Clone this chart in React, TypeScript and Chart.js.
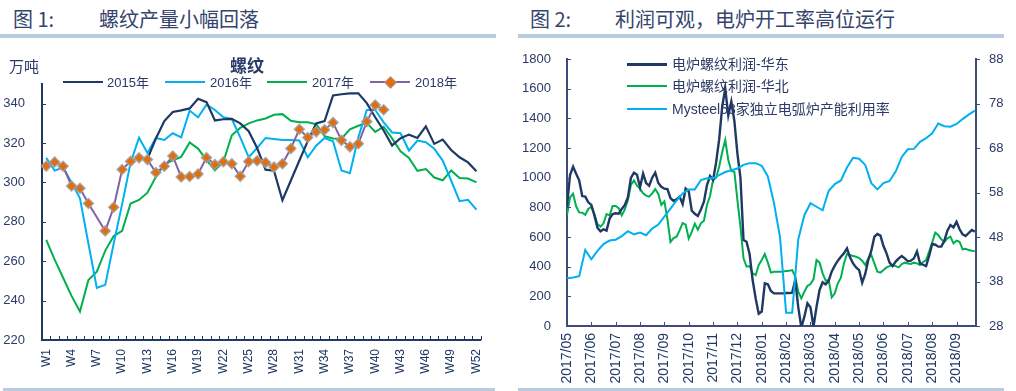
import React, { useEffect, useRef } from "react";
import { Chart, registerables } from "chart.js";

Chart.register(...registerables);

const FONT = "'Liberation Sans', 'Noto Sans CJK SC', sans-serif";
const CJK = "'Noto Sans CJK SC', 'Liberation Sans', sans-serif";
const TEXT = "#2B3A66";
const AXIS1 = "#1F3864";
const AXIS2 = "#3D4C7A";
const BAR = "#B8CBE0";

// ---------- Chart 1: weekly rebar output ----------
const weekLabels = [
  "W1", "W2", "W3", "W4", "W5", "W6", "W7", "W8", "W9", "W10", "W11", "W12", "W13",
  "W14", "W15", "W16", "W17", "W18", "W19", "W20", "W21", "W22", "W23", "W24", "W25", "W26",
  "W27", "W28", "W29", "W30", "W31", "W32", "W33", "W34", "W35", "W36", "W37", "W38", "W39",
  "W40", "W41", "W42", "W43", "W44", "W45", "W46", "W47", "W48", "W49", "W50", "W51", "W52",
];
const yTicks1 = [220, 240, 260, 280, 300, 320, 340];

const s2015 = [
  null, null, null, null, null, null, null, null, null, null, null, null,
  312, 322.3, 331.2, 335.8, 336.6, 337.6, 342.5, 340.8, 331.5, 332.1, 332.3, 330, 326, 317.5,
  306.5, 306, 291, 301, 311, 321, 330, 331.2, 344.2, 344.8, 345.2, 345.3, 340.3, 333.1,
  326.4, 318.8, 322.5, 324.3, 322.6, 328.5, 319.6, 321.8, 316.5, 312.8, 310.2, 305.7,
];
const s2016 = [
  312.5, 306, 307.6, 300, 292, 269, 246.5, 248, 269, 289, 310, 322.7, 315,
  322.6, 321.6, 325, 322.9, 336.5, 333.1, 339.5, 336.8, 333.1, 332.3, 322.9, 312.8, 317.5,
  322.6, 322.1, 321.6, 321.6, 321.3, 312.8, 318.7, 322.6, 320.9, 306.1, 304.7, 322.9, 336.8,
  336.8, 330.5, 325.4, 325, 316.2, 321.3, 320.4, 317.1, 311.1, 301, 290.5, 291.2, 286.2,
];
const s2017 = [
  270.8, 260.8, 251.6, 242.4, 234.5, 250.5, 254.7, 265.4, 272.8, 275.4, 289.3, 291.1, 294.8,
  302.9, 309.1, 311.3, 313, 320.3, 317.2, 311.3, 306.2, 310.5, 324, 327.7, 330, 331.5,
  332.5, 334.4, 334.7, 331.3, 330.6, 330.6, 329.6, 323.5, 322.3, 322.2, 327, 328.8, 330.3,
  325.7, 328.3, 322.4, 315.8, 312.5, 305.9, 306.8, 302.5, 301.1, 306.1, 302.3, 302, 300,
];
const s2018 = [
  308.3, 310.4, 308.2, 298.2, 297, 289.3, null, 275.4, 287.4, 306.6, 310.7, 312.5, 311.6,
  305, 308.2, 313.4, 302.8, 303, 304.3, 312.6, 309.1, 310.5, 309.5, 303.1, 310.6, 311,
  310.1, 307.8, 309.5, 317.2, 327, 322.8, 325.7, 326.8, 330.4, 321.4, 318.1, 319.7, 330.9,
  339.3, 336.9, null, null, null, null, null, null, null, null, null, null, null,
];

// ---------- Chart 2: EAF profit & utilisation ----------
const monthLabels = [
  "2017/05", "2017/06", "2017/07", "2017/08", "2017/09", "2017/10", "2017/11", "2017/12",
  "2018/01", "2018/02", "2018/03", "2018/04", "2018/05", "2018/06", "2018/07", "2018/08", "2018/09",
];
const profitStep = 0.125; // months between profit observations
const utilStep = 0.25; // months between utilisation observations
const xMax2 = 16.8;
const yTicksLeft = [0, 200, 400, 600, 800, 1000, 1200, 1400, 1600, 1800];
const yTicksRight = [28, 38, 48, 58, 68, 78, 88];

const eastProfit = [
  804, 1018, 1074, 1027, 982, 876, 872, 834, 816, 746,
  663, 638, 652, 643, 724, 755, 760, 757, 789, 816,
  867, 998, 1034, 1020, 935, 1027, 963, 946, 1000, 1034,
  964, 939, 926, 923, 863, 843, 854, 872, 822, 926,
  908, 777, 757, 742, 786, 838, 950, 1011, 984, 1103,
  1258, 1478, 1600, 1420, 1514, 1382, 1162, 998, 580, 568,
  485, 310, 186, 83, 97, 288, 281, 236, 220, 220,
  220, 220, 222, 222, 225, 310, 126, -10, 63, 153,
  126, -5, 130, 243, 294, 281, 306, 368, 407, 440,
  467, 490, 524, 463, 422, 395, 377, 292, 351, 445,
  508, 602, 620, 609, 539, 490, 427, 404, 434, 456,
  472, 456, 436, 440, 456, 503, 422, 413, 404, 472,
  553, 548, 535, 535, 575, 643, 681, 665, 703, 652,
  618, 607, 627, 647, 636,
];
const northProfit = [
  748, 866, 892, 807, 766, 764, 750, 789, 804, 755,
  688, 670, 692, 755, 746, 809, 809, 795, 746, 786,
  847, 950, 982, 946, 926, 894, 879, 872, 894, 923,
  890, 816, 840, 721, 566, 593, 602, 645, 694, 683,
  589, 634, 690, 649, 692, 710, 816, 876, 984, 1000,
  1074, 1173, 1254, 1119, 1045, 1040, 849, 670, 456, 400,
  404, 355, 344, 411, 445, 485, 427, 360, 366, 366,
  366, 368, 371, 373, 377, 333, 231, 186, 231, 270,
  283, 315, 445, 427, 355, 306, 310, 193, 220, 288,
  326, 422, 485, 479, 472, 467, 458, 440, 411, 456,
  479, 422, 366, 360, 377, 395, 404, 411, 404, 395,
  418, 427, 422, 418, 427, 422, 411, 431, 445, 501,
  562, 629, 613, 584, 566, 591, 602, 557, 575, 568,
  517, 521, 512, 508, 503,
];
const utilisation = [
  38.7, 38.9, 39.2, 45.1, 43.0, 44.9, 46.4, 47.2, 47.4, 48.2,
  49.3, 48.6, 49.0, 48.4, 49.9, 50.8, 52.6, 54.4, 56.2, 57.8,
  58.7, 58.7, 60.8, 61.2, 61.2, 61.9, 62.6, 63.0, 63.4, 64.2,
  64.6, 64.6, 64.0, 61.6, 55.7, 47.9, 31.0, 31.0, 47.5, 52.9,
  55.6, 54.8, 54.0, 58.4, 59.9, 60.7, 63.6, 65.8, 65.6, 64.2,
  60.1, 58.7, 60.1, 60.6, 62.7, 66.0, 67.7, 67.8, 69.4, 70.2,
  71.3, 73.5, 72.9, 72.8, 73.4, 74.5, 75.5, 76.4,
];

// small ticks drawn inside the plot, as in the source
const innerTicks = {
  id: "innerTicks",
  afterDatasetsDraw(chart: any, _args: any, opts: any) {
    const { ctx, chartArea: a } = chart;
    const len = opts.len ?? 4;
    ctx.save();
    ctx.strokeStyle = opts.color || "#000";
    ctx.lineWidth = 1;
    Object.values(chart.scales).forEach((s: any) => {
      if (s.axis === "x") {
        let xs: number[] = [];
        if (s.type === "category") {
          const n = s.getLabels().length;
          const half = (s.getPixelForValue(1) - s.getPixelForValue(0)) / 2;
          for (let i = 0; i < n; i++) xs.push(s.getPixelForValue(i) - half);
          xs.push(s.getPixelForValue(n - 1) + half);
        } else {
          xs = s.ticks.map((t: any) => s.getPixelForValue(t.value));
        }
        xs.forEach((x) => {
          const px = Math.round(x) + 0.5;
          ctx.beginPath();
          ctx.moveTo(px, a.bottom);
          ctx.lineTo(px, a.bottom - len);
          ctx.stroke();
        });
      } else {
        const right = s.position === "right";
        s.ticks.forEach((t: any) => {
          const py = Math.round(s.getPixelForValue(t.value)) + 0.5;
          ctx.beginPath();
          if (right) {
            ctx.moveTo(a.right, py);
            ctx.lineTo(a.right + len, py);
          } else {
            ctx.moveTo(a.left, py);
            ctx.lineTo(a.left + len, py);
          }
          ctx.stroke();
        });
      }
    });
    ctx.restore();
  },
};

function lineDs(label: string, data: any[], color: string, width: number, extra: any = {}) {
  return {
    label,
    data,
    borderColor: color,
    backgroundColor: color,
    borderWidth: width,
    pointRadius: 0,
    tension: 0,
    fill: false,
    ...extra,
  };
}

const noGrid = { display: false, drawTicks: false };

function config1(): any {
  return {
    type: "line",
    data: {
      labels: weekLabels,
      datasets: [
        lineDs("2018年", s2018, "#8064A2", 2, {
          spanGaps: true,
          pointStyle: "rectRot",
          pointRadius: 5,
          pointBackgroundColor: "#E46C0A",
          pointBorderColor: "rgba(160,160,160,0.85)",
          pointBorderWidth: 1.5,
        }),
        lineDs("2015年", s2015, "#1F3864", 2.2),
        lineDs("2016年", s2016, "#00B0F0", 2),
        lineDs("2017年", s2017, "#00B050", 2),
      ],
    },
    options: {
      responsive: false,
      animation: false,
      layout: { padding: { top: 84, right: 16, left: 0, bottom: 0 } },
      plugins: {
        legend: { display: false },
        tooltip: { enabled: false },
        innerTicks: { color: AXIS1, len: 4 },
      },
      scales: {
        x: {
          type: "category",
          offset: true,
          grid: noGrid,
          border: { color: AXIS1, width: 2 },
          ticks: {
            autoSkip: false,
            minRotation: 90,
            maxRotation: 90,
            padding: 9,
            color: AXIS1,
            font: { size: 12, family: FONT },
            callback: (_v: any, i: number) => (i % 3 === 0 ? weekLabels[i] : ""),
          },
          afterFit: (s: any) => {
            s.height = 51;
          },
        },
        y: {
          min: 220,
          max: 350,
          grid: noGrid,
          border: { color: AXIS1, width: 2 },
          afterBuildTicks: (s: any) => {
            s.ticks = yTicks1.map((v) => ({ value: v }));
          },
          ticks: {
            padding: 17,
            color: TEXT,
            font: { size: 13, family: FONT },
            callback: (v: any) => String(v),
          },
          afterFit: (s: any) => {
            s.width = 42;
          },
        },
      },
    },
    plugins: [innerTicks],
  };
}

function config2(): any {
  const east = eastProfit.map((y, i) => ({ x: i * profitStep, y }));
  const north = northProfit.map((y, i) => ({ x: i * profitStep, y }));
  const util = utilisation.map((y, i) => ({ x: i * utilStep, y }));
  return {
    type: "line",
    data: {
      datasets: [
        lineDs("Mysteel53家独立电弧炉产能利用率", util, "#00B0F0", 2, { yAxisID: "y1" }),
        lineDs("电炉螺纹利润-华东", east, "#1F3864", 2.4, { yAxisID: "y" }),
        lineDs("电炉螺纹利润-华北", north, "#00B050", 2, { yAxisID: "y" }),
      ],
    },
    options: {
      responsive: false,
      animation: false,
      layout: { padding: { top: 59, right: 0, left: 0, bottom: 0 } },
      plugins: {
        legend: { display: false },
        tooltip: { enabled: false },
        innerTicks: { color: AXIS2, len: 4 },
      },
      scales: {
        x: {
          type: "linear",
          min: 0,
          max: xMax2,
          grid: noGrid,
          border: { color: AXIS2, width: 2 },
          afterBuildTicks: (s: any) => {
            s.ticks = monthLabels.map((_m, i) => ({ value: i }));
          },
          ticks: {
            autoSkip: false,
            minRotation: 90,
            maxRotation: 90,
            padding: 7,
            color: AXIS1,
            font: { size: 14, family: FONT },
            callback: (v: any) => monthLabels[v] ?? "",
          },
          afterFit: (s: any) => {
            s.height = 65;
          },
        },
        y: {
          position: "left",
          min: 0,
          max: 1800,
          grid: noGrid,
          border: { color: AXIS2, width: 2 },
          afterBuildTicks: (s: any) => {
            s.ticks = yTicksLeft.map((v) => ({ value: v }));
          },
          ticks: {
            padding: 16,
            color: TEXT,
            font: { size: 13, family: FONT },
            callback: (v: any) => String(v),
          },
          afterFit: (s: any) => {
            s.width = 59;
          },
        },
        y1: {
          position: "right",
          min: 28,
          max: 88,
          grid: noGrid,
          border: { color: AXIS2, width: 2 },
          afterBuildTicks: (s: any) => {
            s.ticks = yTicksRight.map((v) => ({ value: v }));
          },
          ticks: {
            padding: 13,
            color: TEXT,
            font: { size: 13, family: FONT },
            callback: (v: any) => String(v),
          },
          afterFit: (s: any) => {
            s.width = 40;
          },
        },
      },
    },
    plugins: [innerTicks],
  };
}

const abs = (l: number, t: number, extra: React.CSSProperties = {}): React.CSSProperties => ({
  position: "absolute",
  left: l,
  top: t,
  ...extra,
});

function LegendLine({ x, y, color, w = 40, h = 2 }: { x: number; y: number; color: string; w?: number; h?: number }) {
  return <div style={abs(x, y - h / 2, { width: w, height: h, background: color })} />;
}

function LegendText({ x, y, size, children }: { x: number; y: number; size: number; children: React.ReactNode }) {
  return (
    <div
      style={abs(x, y - size * 0.65, {
        fontSize: size,
        lineHeight: `${Math.round(size * 1.3)}px`,
        color: TEXT,
        fontFamily: FONT,
        whiteSpace: "nowrap",
      })}
    >
      {children}
    </div>
  );
}

export default function App() {
  const r1 = useRef<HTMLCanvasElement>(null);
  const r2 = useRef<HTMLCanvasElement>(null);

  useEffect(() => {
    const c1 = new Chart(r1.current as HTMLCanvasElement, config1());
    const c2 = new Chart(r2.current as HTMLCanvasElement, config2());
    return () => {
      c1.destroy();
      c2.destroy();
    };
  }, []);

  const titleStyle: React.CSSProperties = {
    fontFamily: CJK,
    fontSize: 20,
    lineHeight: "24px",
    color: "#34446E",
    whiteSpace: "nowrap",
  };

  return (
    <div
      style={{
        position: "fixed",
        left: 0,
        top: 0,
        width: 1016,
        height: 391,
        background: "#ffffff",
        overflow: "hidden",
      }}
    >
      {/* Panel titles */}
      <div style={abs(13, 7, titleStyle)}>图 1:</div>
      <div style={abs(99, 7, titleStyle)}>螺纹产量小幅回落</div>
      <div style={abs(530, 7, titleStyle)}>图 2:</div>
      <div style={abs(615, 7, titleStyle)}>利润可观，电炉开工率高位运行</div>

      {/* Decorative rules */}
      <div style={abs(0, 34, { width: 496, height: 4, background: BAR })} />
      <div style={abs(518, 34, { width: 486, height: 4, background: BAR })} />
      <div style={abs(3, 388, { width: 492, height: 3, background: BAR })} />
      <div style={abs(518, 388, { width: 486, height: 3, background: BAR })} />

      <canvas ref={r1} width={500} height={391} style={abs(0, 0, { width: 500, height: 391 })} />
      <canvas ref={r2} width={508} height={391} style={abs(508, 0, { width: 508, height: 391 })} />

      {/* Chart 1 labels & legend */}
      <div style={abs(9, 57, { fontFamily: CJK, fontSize: 15, lineHeight: "18px", color: TEXT })}>万吨</div>
      <div style={abs(230, 55, { fontFamily: CJK, fontSize: 17, lineHeight: "20px", color: TEXT, fontWeight: 700 })}>
        螺纹
      </div>
      <LegendLine x={63} y={82} color="#1F3864" />
      <LegendText x={107} y={82} size={13}>2015年</LegendText>
      <LegendLine x={165} y={82} color="#00B0F0" />
      <LegendText x={210} y={82} size={13}>2016年</LegendText>
      <LegendLine x={267} y={82} color="#00B050" />
      <LegendText x={312} y={82} size={13}>2017年</LegendText>
      <LegendLine x={370} y={82} color="#8064A2" />
      <div
        style={abs(386, 78, {
          width: 7,
          height: 7,
          background: "#E46C0A",
          border: "1px solid rgba(160,160,160,0.85)",
          transform: "rotate(45deg)",
        })}
      />
      <LegendText x={415} y={82} size={13}>2018年</LegendText>

      {/* Chart 2 legend */}
      <LegendLine x={627} y={64} color="#1F3864" h={3} />
      <LegendText x={672} y={64} size={14}>电炉螺纹利润-华东</LegendText>
      <LegendLine x={627} y={86} color="#00B050" />
      <LegendText x={672} y={86} size={14}>电炉螺纹利润-华北</LegendText>
      <LegendLine x={627} y={109} color="#00B0F0" />
      <LegendText x={672} y={109} size={14}>Mysteel53家独立电弧炉产能利用率</LegendText>
    </div>
  );
}
